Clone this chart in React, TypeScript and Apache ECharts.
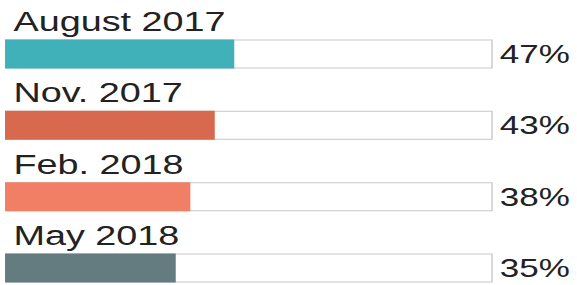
import React, { useEffect, useRef } from "react";
import * as echarts from "echarts";

const categories = ["August 2017", "Nov. 2017", "Feb. 2018", "May 2018"];
const values = [47, 43, 38, 35];
const colors = ["#40b0b9", "#d8694f", "#f07f65", "#647c80"];
const trackMax = [100, 100, 100, 100];

const STRETCH = 1.4;
const W = 577 / STRETCH;
const H = 285;

export default function App() {
  const ref = useRef<HTMLDivElement>(null);
  useEffect(() => {
    if (!ref.current) return;
    const chart = echarts.init(ref.current, undefined, { renderer: "svg" });
    chart.setOption({
      animation: false,
      grid: { left: 3.6, right: W - 352.1, top: 54, bottom: H - 268 },
      xAxis: {
        type: "value",
        min: 0,
        max: 100,
        show: false,
      },
      yAxis: {
        type: "category",
        data: categories,
        inverse: true,
        boundaryGap: false,
        show: false,
      },
      series: [
        {
          type: "bar",
          data: trackMax,
          barWidth: 29,
          barGap: "-100%",
          silent: true,
          itemStyle: { color: "#ffffff", borderColor: "#c8c8c8", borderWidth: 1 },
          label: {
            show: true,
            position: "right",
            distance: 5,
            fontFamily: "Liberation Sans, Arial, sans-serif",
            fontSize: 25,
            color: "#222222",
            formatter: (p: any) => values[p.dataIndex] + "%",
          },
          z: 1,
        },
        {
          type: "bar",
          data: values.map((v, i) => ({ value: v, itemStyle: { color: colors[i] } })),
          barWidth: 29,
          barGap: "-100%",
          label: {
            show: true,
            position: [6, -18],
            verticalAlign: "middle",
            align: "left",
            fontFamily: "Liberation Sans, Arial, sans-serif",
            fontSize: 27,
            color: "#222222",
            formatter: (p: any) => categories[p.dataIndex],
          },
          z: 2,
        },
      ],
    });
    return () => chart.dispose();
  }, []);
  return (
    <div
      ref={ref}
      style={{
        position: "absolute",
        left: 0,
        top: 0,
        width: W,
        height: H,
        transform: `scaleX(${STRETCH})`,
        transformOrigin: "0 0",
        background: "#ffffff",
      }}
    />
  );
}
